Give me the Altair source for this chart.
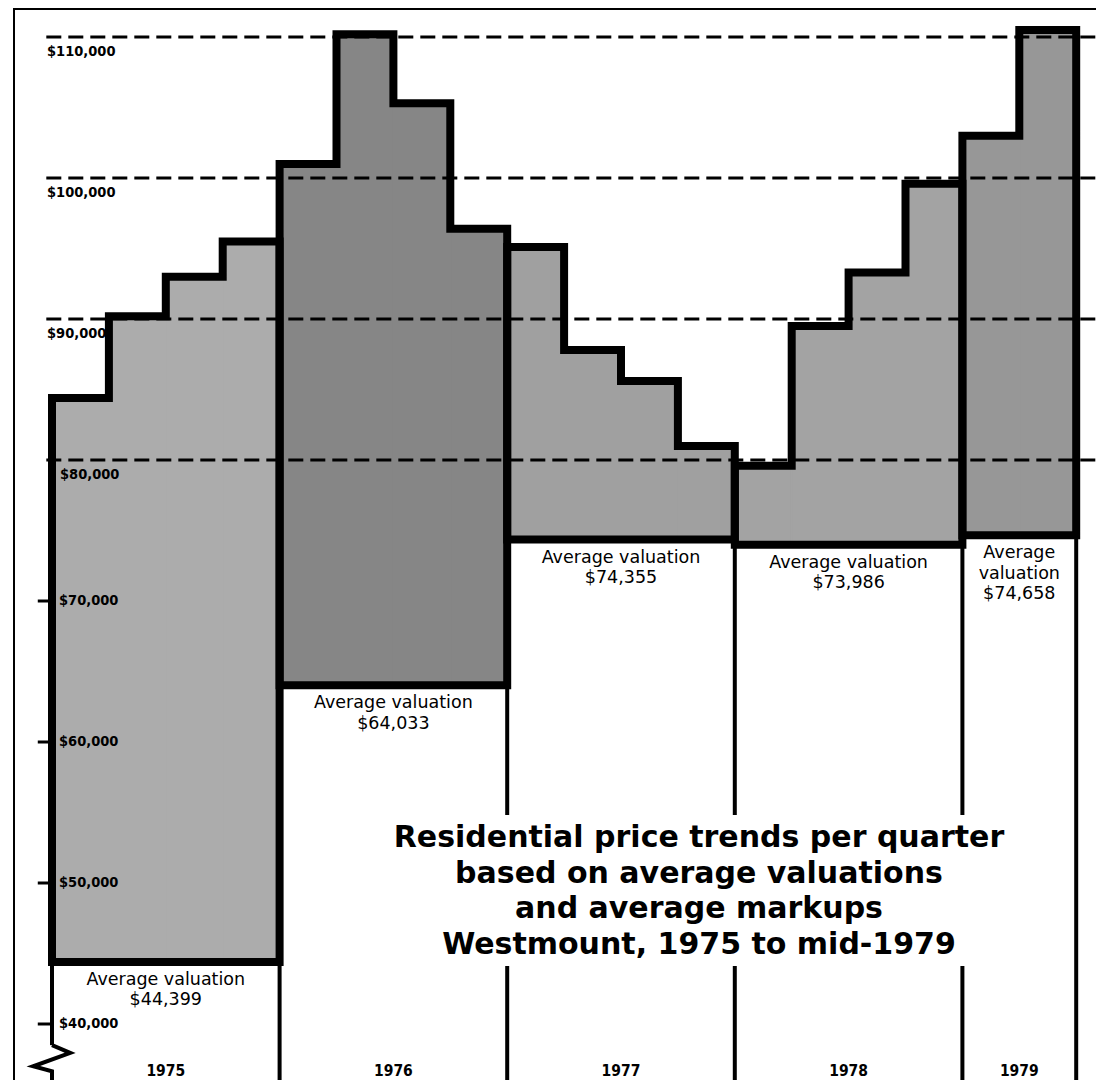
import altair as alt
import pandas as pd

# ---------------- data ----------------
years = ["1975", "1976", "1977", "1978", "1979"]
avg_valuation = [44399, 64033, 74355, 73986, 74658]
quarter_prices = [
    [84400, 90200, 93000, 95500],
    [101000, 110200, 105300, 96400],
    [95100, 87800, 85600, 81000],
    [79600, 89500, 93300, 99600],
    [103000, 110500],
]
grid_values = [80000, 90000, 100000, 110000]
tick_values = [40000, 50000, 60000, 70000]
title_lines = [
    "Residential price trends per quarter",
    "based on average valuations",
    "and average markups",
    "Westmount, 1975 to mid-1979",
]
# axis-break symbol (quarter offset from the axis, dollar level)
axis_break_dq = [0, 0.32, -0.33, 0, 0]
axis_break_v = [38500, 37950, 37000, 36650, 30000]

# ---------------- styles / layout ----------------
year_fill = ["#acacac", "#868686", "#a0a0a0", "#a3a3a3", "#979797"]
W, H = 1088, 1072
PX_PER_DOLLAR = 0.0141
Y_DOM = [110000 - (H - 29) / PX_PER_DOLLAR, 110000 + 29 / PX_PER_DOLLAR]
PX_PER_Q = 56.9
X_DOM = [-44 / PX_PER_Q, (W - 44) / PX_PER_Q]
xs = alt.Scale(domain=X_DOM, nice=False, zero=False)
ys = alt.Scale(domain=Y_DOM, nice=False, zero=False)

LABEL_FONT = "DejaVu Sans Condensed"
BODY_FONT = "DejaVu Sans"

# ---------------- derived tables ----------------
fills, outline, starts = [], [], []
start = 0
for i, (yr, av, qs) in enumerate(zip(years, avg_valuation, quarter_prices)):
    starts.append(start)
    for j, t in enumerate(qs):
        fills.append(dict(year=yr, q0=start + j, q1=start + j + 1, base=av, top=t))
    pts = [(start, av)]
    for j, t in enumerate(qs):
        pts += [(start + j, t), (start + j + 1, t)]
    pts += [(start + len(qs), av), (start, av)]
    for k, (q, v) in enumerate(pts):
        outline.append(dict(year=yr, order=k, q=q, v=v))
    start += len(qs)
end = start
fills = pd.DataFrame(fills)
outline = pd.DataFrame(outline)

dividers = []
bounds = starts + [end]
for k, b in enumerate(bounds):
    adj = []
    if k > 0:
        adj.append(avg_valuation[k - 1])
    if k < len(years):
        adj.append(avg_valuation[k])
    if b == 0:
        dividers.append(dict(q=b, v0=axis_break_v[0], v1=max(adj)))
    else:
        dividers.append(dict(q=b, v0=Y_DOM[0], v1=max(adj)))
dividers = pd.DataFrame(dividers)

zig = pd.DataFrame(dict(q=axis_break_dq, v=axis_break_v, order=range(len(axis_break_v))))

grid = pd.DataFrame(dict(v=grid_values, q0=-0.1, q1=X_DOM[1]))
ticks = pd.DataFrame(dict(v=tick_values, q0=-0.25, q1=0))


def money(v):
    return "$" + format(v, ",")


grid_lab = pd.DataFrame(dict(v=grid_values, t=[money(v) for v in grid_values]))
grid_lab["inside"] = grid_lab["v"] < quarter_prices[0][0]
tick_lab = pd.DataFrame(dict(v=tick_values, t=[money(v) for v in tick_values]))

val_lab = []
for k, (yr, av, qs) in enumerate(zip(years, avg_valuation, quarter_prices)):
    txt = ("Average valuation" if len(qs) == 4 else "Average\nvaluation") + "\n" + money(av)
    val_lab.append(dict(q=starts[k] + len(qs) / 2, v=av, t=txt))
val_lab = pd.DataFrame(val_lab)

year_lab = pd.DataFrame(dict(q=[s + len(qs) / 2 for s, qs in zip(starts, quarter_prices)], t=years))
title_df = pd.DataFrame(dict(t=["\n".join(title_lines)]))

# ---------------- layers ----------------
X = lambda f: alt.X(f, type="quantitative", scale=xs, axis=None)
Y = lambda f: alt.Y(f, type="quantitative", scale=ys, axis=None)
year_scale = alt.Scale(domain=years, range=year_fill)

fill_layer = alt.Chart(fills).mark_rect(strokeWidth=1.5).encode(
    x=X("q0"), x2="q1", y=Y("base"), y2="top",
    color=alt.Color("year:N", scale=year_scale, legend=None),
    stroke=alt.Stroke("year:N", scale=year_scale, legend=None),
)

grid_layer = alt.Chart(grid).mark_rule(color="black", strokeWidth=3, strokeDash=[15, 7]).encode(
    x=X("q0"), x2="q1", y=Y("v"))

divider_layer = alt.Chart(dividers).mark_rule(color="black", strokeWidth=4).encode(
    x=X("q"), y=Y("v0"), y2="v1")

zig_layer = alt.Chart(zig).mark_line(color="black", strokeWidth=4, strokeJoin="miter").encode(
    x=X("q"), y=Y("v"), order="order:Q")

tick_layer = alt.Chart(ticks).mark_rule(color="black", strokeWidth=3).encode(
    x=X("q0"), x2="q1", y=Y("v"))

outline_layer = alt.Chart(outline).mark_line(
    color="black", strokeWidth=8, strokeJoin="miter", strokeCap="square"
).encode(x=X("q"), y=Y("v"), detail="year:N", order="order:Q")

frame_top = alt.Chart(title_df).mark_rule(color="black", strokeWidth=2).encode(
    x=alt.value(6), x2=alt.value(W), y=alt.value(1))
frame_left = alt.Chart(title_df).mark_rule(color="black", strokeWidth=2).encode(
    x=alt.value(6), y=alt.value(0), y2=alt.value(H))

title_box = alt.Chart(title_df).mark_rect(color="white").encode(
    x=alt.value(372), x2=alt.value(1022), y=alt.value(807), y2=alt.value(958))

title_text = alt.Chart(title_df).mark_text(
    font=BODY_FONT, fontWeight="bold", fontSize=30, lineHeight=35.5, lineBreak="\n",
    align="center", baseline="top", color="black",
).encode(text="t:N", x=alt.value(691), y=alt.value(815))

lab_common = dict(font=LABEL_FONT, fontWeight="bold", fontSize=14.5, color="black",
                  align="left", baseline="middle")
grid_out = alt.Chart(grid_lab[~grid_lab["inside"]]).mark_text(dx=-5, dy=15, **lab_common).encode(
    x=alt.X(datum=0, scale=xs, axis=None), y=Y("v"), text="t:N")
grid_in = alt.Chart(grid_lab[grid_lab["inside"]]).mark_text(dx=8, dy=15, **lab_common).encode(
    x=alt.X(datum=0, scale=xs, axis=None), y=Y("v"), text="t:N")
tick_text = alt.Chart(tick_lab).mark_text(dx=7, **lab_common).encode(
    x=alt.X(datum=0, scale=xs, axis=None), y=Y("v"), text="t:N")

val_text = alt.Chart(val_lab).mark_text(
    font=BODY_FONT, fontSize=17.5, lineHeight=20.5, lineBreak="\n",
    align="center", baseline="top", dy=9, color="black",
).encode(x=X("q"), y=Y("v"), text="t:N")

year_text = alt.Chart(year_lab).mark_text(
    font=LABEL_FONT, fontWeight="bold", fontSize=15.5, align="center", baseline="middle", color="black",
).encode(x=X("q"), y=alt.value(H - 9), text="t:N")

chart = alt.layer(
    fill_layer, grid_layer, divider_layer, zig_layer, tick_layer, outline_layer,
    title_box, title_text, grid_out, grid_in, tick_text, val_text, year_text,
    frame_top, frame_left,
).properties(
    width=W, height=H, autosize=alt.AutoSizeParams(type="none"), padding=0,
    background="white",
).configure_view(stroke=None)

chart.save("out.html", embed_options={"renderer": "svg", "actions": False})
